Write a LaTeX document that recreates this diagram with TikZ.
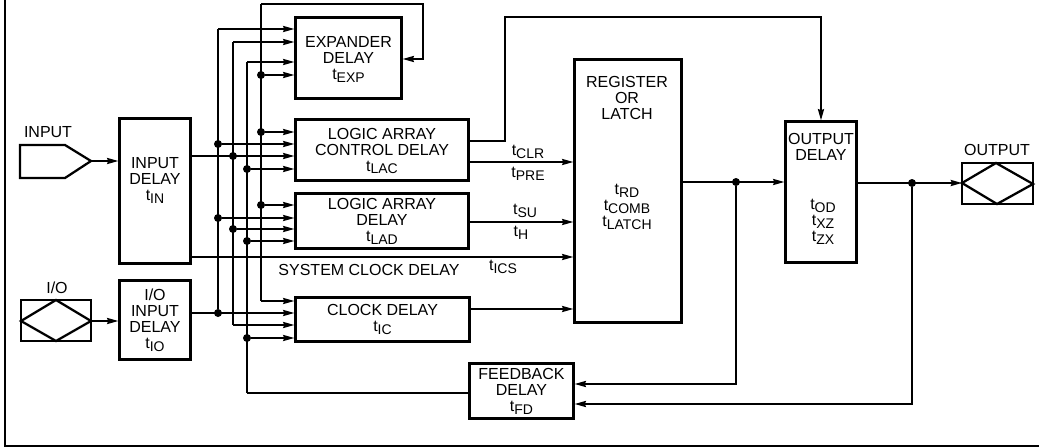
\documentclass[tikz,border=0pt]{standalone}
\usepackage{fontspec}
\setmainfont{Liberation Sans}
\usetikzlibrary{arrows.meta,calc}
\newcommand{\tsb}[1]{t\raisebox{-2.2pt}{\fontsize{10.5}{12}\selectfont #1}}
\tikzset{
  x=0.75pt,y=-0.75pt,
  every node/.style={font=\fontsize{12}{12}\selectfont},
  box/.style={draw,line width=1.7pt,align=center,inner sep=0pt,line join=miter},
  lbl/.style={inner sep=0pt,align=center},
  wire/.style={line width=1.35pt,line join=miter},
  arr/.style={wire,-{Stealth[length=8.5pt,width=4.6pt,inset=1pt]}},
  dot/.style={circle,fill=black,inner sep=0pt,minimum size=6pt},
  pin/.style={draw,line width=1.7pt,line join=miter}
}
\begin{document}
\begin{tikzpicture}
\useasboundingbox (0,0) rectangle (1039,447);
% frame
\draw[line width=1.8pt] (5,0) -- (5,446) -- (1039,446);
% boxes
\node[box,minimum width=71pt*0.75,minimum height=145pt*0.75] at (155,191) (indel) {};
\node[box,minimum width=71pt*0.75,minimum height=79pt*0.75] at (155,320) (iodel) {I/O\\INPUT\\DELAY\\\tsb{IO}};
\node[box,minimum width=106pt*0.75,minimum height=81pt*0.75] at (348.5,58) (exp) {};
\node[box,minimum width=173pt*0.75,minimum height=61pt*0.75] at (382,150) (lac) {};
\node[box,minimum width=173pt*0.75,minimum height=55pt*0.75] at (382,221) (lad) {LOGIC ARRAY\\DELAY\\\tsb{LAD}};
\node[box,minimum width=174pt*0.75,minimum height=44pt*0.75] at (382.5,319.5) (clk) {CLOCK DELAY\\\tsb{IC}};
\node[box,minimum width=107pt*0.75,minimum height=263pt*0.75] at (628,191) (reg) {};
\node[box,minimum width=71pt*0.75,minimum height=141pt*0.75] at (821,192) (out) {};
\node[box,minimum width=104pt*0.75,minimum height=55pt*0.75] at (521.5,391) (fb) {FEEDBACK\\DELAY\\\tsb{FD}};
% texts placed apart from the box centre
\node[lbl] (indelt) at (155,180.5) {INPUT\\DELAY\\\tsb{IN}};
\node[lbl] (expt) at (348.5,59.5) {EXPANDER\\DELAY\\\tsb{EXP}};
\node[lbl] (lact) at (382,151) {LOGIC ARRAY\\CONTROL DELAY\\\tsb{LAC}};
\node[lbl] (regt) at (627,98) {REGISTER\\OR\\LATCH};
\node[lbl] (regd) at (627,207) {\tsb{RD}\\\tsb{COMB}\\\tsb{LATCH}};
\node[lbl] (outt) at (821,147) {OUTPUT\\DELAY};
\node[lbl] (outd) at (823,222) {\tsb{OD}\\\tsb{XZ}\\\tsb{ZX}};
% plain labels
\node[lbl] (linput) at (48,132) {INPUT};
\node[lbl] (lio) at (57,288) {I/O};
\node[lbl] (loutput) at (997,150) {OUTPUT};
\node[lbl] (lsys) at (369,270) {SYSTEM CLOCK DELAY};
\node[lbl] (lclr) at (528,152) {\tsb{CLR}};
\node[lbl] (lpre) at (528,174) {\tsb{PRE}};
\node[lbl] (lsu) at (525,211) {\tsb{SU}};
\node[lbl] (lh) at (521,233) {\tsb{H}};
\node[lbl] (lics) at (503,267) {\tsb{ICS}};
% pins
\draw[pin] (20,145) -- (65,145) -- (91,161) -- (65,178) -- (20,178) -- cycle;
\coordinate (intip) at (91,161);
\draw[pin] (21,300) rectangle (91,341);
\draw[pin] (21,321) -- (56,300) -- (91,321) -- (56,341) -- cycle;
\coordinate (iotip) at (91,321);
\draw[pin] (962,163) rectangle (1033,204);
\draw[pin] (962,183) -- (996,163) -- (1033,184) -- (997,204) -- cycle;
\coordinate (outpin) at (962,183);
% dots
\foreach \n/\x/\y in {a/261/75,b/261/132,c/261/205,
  d/218/144,e/218/218,f/218/313,
  g/233/156,h/233/229,
  i/247/169,j/247/241,k/247/338,
  m/736/182,o/912/183}
  \node[dot] (\n) at (\x,\y) {};
% pin arrows
\draw[arr] (intip) -- (indel.west |- intip);
\draw[arr] (iotip) -- (iodel.west |- iotip);
% buses
\coordinate (t1) at (218,29);
\coordinate (t2) at (233,42);
\coordinate (t3) at (247,62);
\coordinate (t4) at (261,4);
\coordinate (c4) at (261,301);
\coordinate (c2) at (233,325);
\coordinate (c3) at (247,393);
\draw[wire] (t1) -- (f);
\draw[wire] (t2) -- (c2);
\draw[wire] (t3) -- (c3);
\draw[wire] (c4) -- (t4);
% expander
\draw[arr] (t1) -- (exp.west |- t1);
\draw[arr] (t2) -- (exp.west |- t2);
\draw[arr] (t3) -- (exp.west |- t3);
\draw[arr] (a) -- (exp.west |- a);
\draw[arr] (t4) -- (423,4) -- (423,59) -- (exp.east |- 0,59);
% logic array control
\draw[arr] (b) -- (lac.west |- b);
\draw[arr] (d) -- (lac.west |- d);
\draw[arr] (indel.east |- g) -- (lac.west |- g);
\draw[arr] (i) -- (lac.west |- i);
% logic array
\draw[arr] (c) -- (lad.west |- c);
\draw[arr] (e) -- (lad.west |- e);
\draw[arr] (h) -- (lad.west |- h);
\draw[arr] (j) -- (lad.west |- j);
% clock delay
\draw[arr] (c4) -- (clk.west |- c4);
\draw[arr] (iodel.east |- f) -- (clk.west |- f);
\draw[arr] (c2) -- (clk.west |- c2);
\draw[arr] (k) -- (clk.west |- k);
% register inputs
\draw[arr] (lac.east |- 0,162) -- (reg.west |- 0,162);
\draw[arr] (lad.east |- 0,222) -- (reg.west |- 0,222);
\draw[arr] (indel.east |- 0,257) -- (reg.west |- 0,257);
\draw[arr] (clk.east |- 0,309) -- (reg.west |- 0,309);
% output enable
\draw[arr] (lac.east |- 0,141) -- (505,141) -- (505,17) -- (821,17) -- (out.north);
% outputs
\draw[arr] (reg.east |- m) -- (out.west |- m);
\draw[arr] (out.east |- o) -- (outpin);
% feedback
\draw[arr] (m) -- (736,384) -- (fb.east |- 0,384);
\draw[arr] (o) -- (912,404) -- (fb.east |- 0,404);
\draw[wire] (fb.west |- c3) -- (c3);
\end{tikzpicture}
\end{document}
